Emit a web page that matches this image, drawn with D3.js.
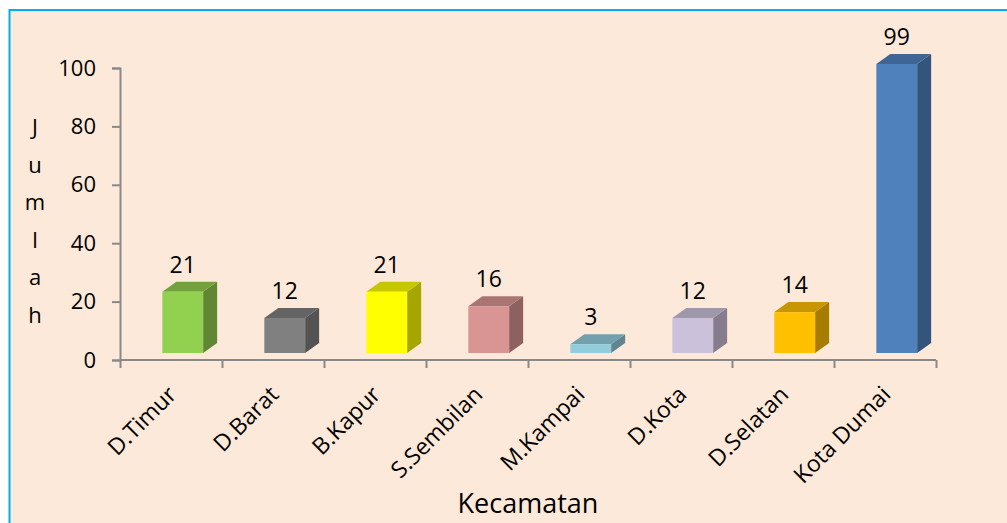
<!DOCTYPE html>
<html>
<head>
<meta charset="utf-8">
<script src="https://cdn.jsdelivr.net/npm/d3@7"></script>
<style>
  body { margin: 0; background: #fff; }
  svg { display: block; font-family: "Open Sans", sans-serif; }
</style>
</head>
<body>
<div class="chart"></div>
<script>
var categories = ["D.Timur", "D.Barat", "B.Kapur", "S.Sembilan", "M.Kampai", "D.Kota", "D.Selatan", "Kota Dumai"];
var values = [21, 12, 21, 16, 3, 12, 14, 99];
var colors = ["#92D050", "#808080", "#FFFF00", "#D99594", "#92CDDC", "#CCC1DA", "#FFC000", "#4F81BD"];
var yTicks = [0, 20, 40, 60, 80, 100];
var yTitle = "Jumlah";
var xTitle = "Kecamatan";

var width = 1007, height = 523;

var svg = d3.select('.chart').append('svg')
  .attr('width', width)
  .attr('height', height);

// background + blue frame (right/bottom edges fall outside the picture)
svg.append('rect')
  .attr('x', 9.5).attr('y', 10)
  .attr('width', 1200).attr('height', 800)
  .style('fill', '#FDE9D9')
  .style('stroke', '#00B0F0')
  .style('stroke-width', 2);

var x = d3.scaleBand()
  .domain(categories)
  .range([120, 936]);

var xIdx = d3.scaleLinear()
  .domain([0, categories.length])
  .range([120, 936]);

var y = d3.scaleLinear()
  .domain([0, 100])
  .range([360, 68]);

// y axis
var yAxis = d3.axisLeft(y)
  .tickValues(yTicks)
  .tickSize(8)
  .tickPadding(16);

var gy = svg.append('g')
  .attr('transform', 'translate(120,0)')
  .call(yAxis);
gy.select('.domain').attr('stroke', '#898989').attr('stroke-width', 2);
gy.selectAll('.tick line').attr('stroke', '#898989').attr('stroke-width', 2);
gy.selectAll('.tick text')
  .attr('fill', '#000')
  .style('font-size', '22px')
  .style('font-family', '"Open Sans", sans-serif');

// x axis (tick marks at category boundaries)
var xAxis = d3.axisBottom(xIdx)
  .tickValues(d3.range(categories.length + 1))
  .tickSize(8)
  .tickFormat('');

var gx = svg.append('g')
  .attr('transform', 'translate(0,360)')
  .call(xAxis);
gx.select('.domain').attr('stroke', '#898989').attr('stroke-width', 2)
  .attr('d', 'M120,0H936');
gx.selectAll('.tick line').attr('stroke', '#898989').attr('stroke-width', 2);

// 3D bars
var bw = x.bandwidth();
var depthX = 14, depthY = 10, lift = 7;

function shade(c, k) {
  var r = d3.rgb(c);
  return d3.rgb(r.r * k, r.g * k, r.b * k).formatHex();
}

var bars = svg.selectAll('.bar')
  .data(categories.map(function (c, i) { return { name: c, value: values[i], color: colors[i] }; }))
  .enter().append('g')
  .attr('class', 'bar');

bars.each(function (d) {
  var g = d3.select(this);
  var x0 = x(d.name) + bw * 0.415;
  var w = bw * 0.40;
  var top = y(d.value) - lift;
  var bottom = y(0) - lift;

  // right side
  g.append('path')
    .attr('d', 'M' + (x0 + w) + ',' + top +
      'L' + (x0 + w + depthX) + ',' + (top - depthY) +
      'L' + (x0 + w + depthX) + ',' + (bottom - depthY) +
      'L' + (x0 + w) + ',' + bottom + 'Z')
    .style('fill', shade(d.color, 0.65));

  // top
  g.append('path')
    .attr('d', 'M' + x0 + ',' + top +
      'L' + (x0 + depthX) + ',' + (top - depthY) +
      'L' + (x0 + w + depthX) + ',' + (top - depthY) +
      'L' + (x0 + w) + ',' + top + 'Z')
    .style('fill', shade(d.color, 0.78));

  // front
  g.append('rect')
    .attr('x', x0)
    .attr('y', top)
    .attr('width', w)
    .attr('height', bottom - top)
    .style('fill', d.color);

  // value label
  g.append('text')
    .attr('x', x0 + w / 2)
    .attr('y', top - depthY - 9)
    .attr('text-anchor', 'middle')
    .attr('fill', '#000')
    .style('font-size', '23px')
    .text(d.value);
});

// category labels
svg.selectAll('.cat-label')
  .data(categories)
  .enter().append('text')
  .attr('class', 'cat-label')
  .attr('transform', function (d) {
    return 'translate(' + (x(d) + bw / 2 + 7) + ',396)rotate(-45)';
  })
  .attr('text-anchor', 'end')
  .attr('fill', '#000')
  .style('font-size', '23px')
  .text(function (d) { return d; });

// x title
svg.append('text')
  .attr('x', 528)
  .attr('y', 513)
  .attr('text-anchor', 'middle')
  .attr('fill', '#000')
  .style('font-size', '27px')
  .text(xTitle);

// y title, one letter per line
var yt = svg.append('text')
  .attr('text-anchor', 'middle')
  .attr('fill', '#000')
  .style('font-size', '22px');
yt.selectAll('tspan')
  .data(yTitle.split(''))
  .enter().append('tspan')
  .attr('x', 35)
  .attr('y', function (d, i) { return 135 + i * 37.5; })
  .text(function (d) { return d; });
</script>
</body>
</html>
